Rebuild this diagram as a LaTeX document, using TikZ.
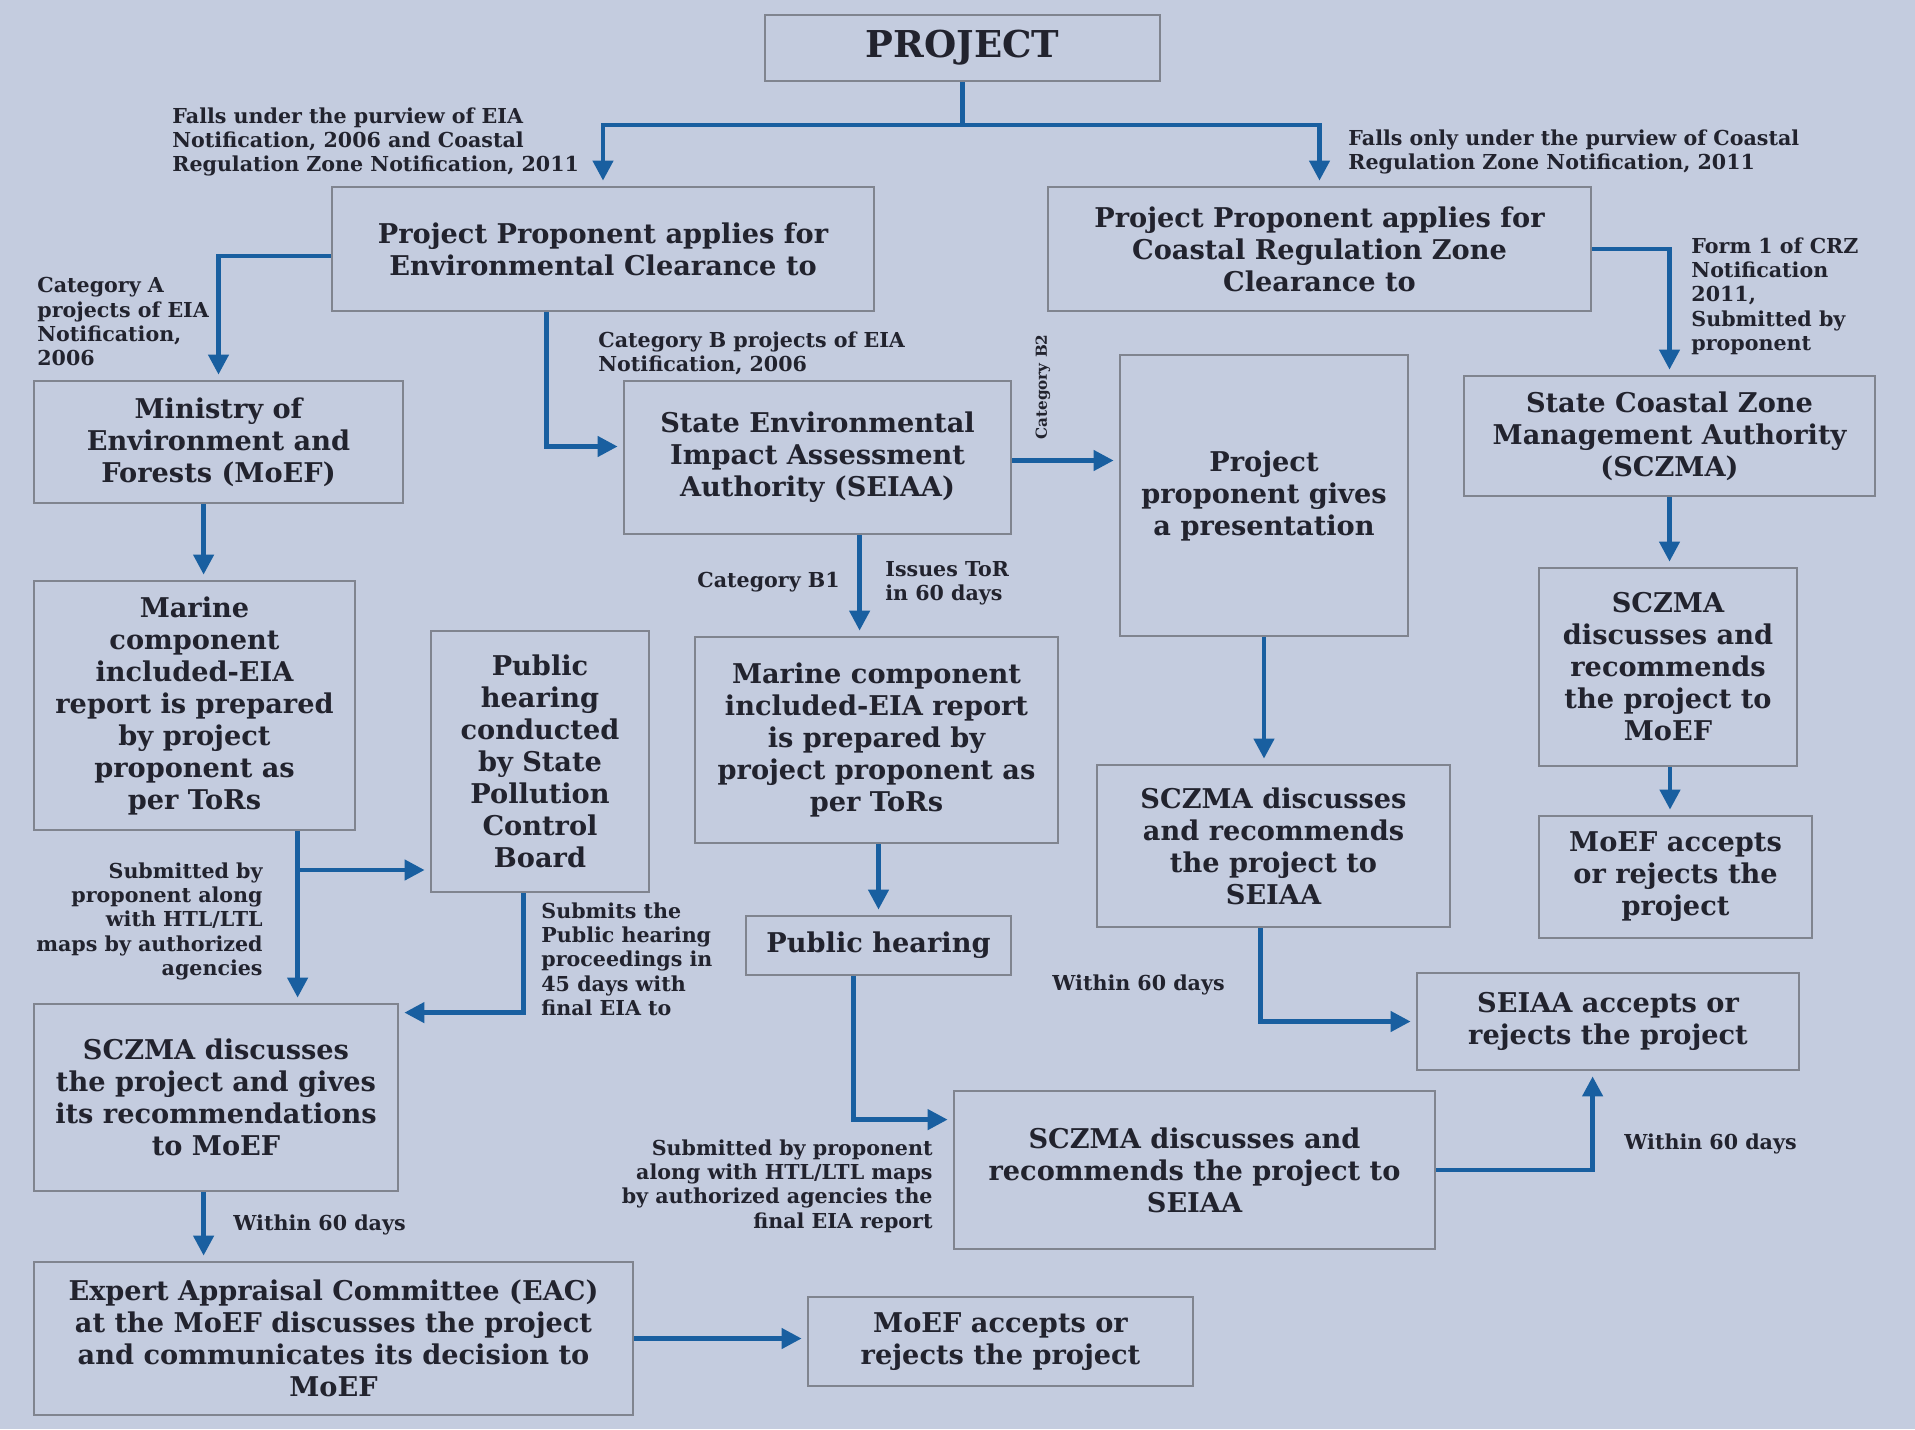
\documentclass[tikz,border=0pt]{standalone}
\usepackage{fontspec}
\setmainfont{DejaVu Serif}
\usetikzlibrary{arrows.meta,calc}
\definecolor{bg}{HTML}{C4CCDF}
\definecolor{bordc}{HTML}{80848F}
\definecolor{arrc}{RGB}{25,95,160}
\definecolor{txt}{HTML}{22232E}
\newcommand\bx[6]{\node[box, minimum width={(#4-#2)*0.5pt}, minimum height={(#5-#3)*0.5pt}] (#1) at ({(#2+#4)/2},{(#3+#5)/2}) {#6};}
\begin{document}
\begin{tikzpicture}[x=0.5pt,y=-0.5pt,
 box/.style={draw=bordc, line width=1.4pt, align=center, text=txt, font=\bfseries\fontsize{13.6}{16}\selectfont, inner sep=0pt},
 lbl/.style={text=txt, font=\bfseries\fontsize{10.3}{12.2}\selectfont, inner sep=0pt},
 arr/.style={draw=arrc, line width=2.2pt, -{Triangle[length=10pt,width=10pt]}, shorten >=2.5pt},
 ln/.style={draw=arrc, line width=2.2pt}]
\fill[bg] (0,0) rectangle (1915,1429);
\useasboundingbox (0,0) rectangle (1915,1429);

\node[box, font=\bfseries\fontsize{18.5}{20}\selectfont, minimum width={(1160-765)*0.5pt}, minimum height={(81-15)*0.5pt}] (proj) at ({(765+1160)/2},{(15+81)/2}) {PROJECT};
\bx{ec}{332}{187}{874}{311}{Project Proponent applies for\\Environmental Clearance to}
\bx{crz}{1048}{187}{1591}{311}{Project Proponent applies for\\Coastal Regulation Zone\\Clearance to}
\bx{moef}{34}{381}{403}{503}{Ministry of\\Environment and\\Forests (MoEF)}
\bx{seiaa}{624}{381}{1011}{534}{State Environmental\\Impact Assessment\\Authority (SEIAA)}
\bx{pres}{1120}{355}{1408}{636}{Project\\proponent gives\\a presentation}
\bx{scz}{1464}{376}{1875}{496}{State Coastal Zone\\Management Authority\\(SCZMA)}
\bx{mar1}{34}{581}{355}{830}{Marine\\component\\included-EIA\\report is prepared\\by project\\proponent as\\per ToRs}
\bx{ph1}{431}{631}{649}{892}{Public\\hearing\\conducted\\by State\\Pollution\\Control\\Board}
\bx{mar2}{695}{637}{1058}{843}{Marine component\\included-EIA report\\is prepared by\\project proponent as\\per ToRs}
\bx{sc2}{1539}{568}{1797}{766}{SCZMA\\discusses and\\recommends\\the project to\\MoEF}
\bx{scm}{1097}{765}{1450}{927}{SCZMA discusses\\and recommends\\the project to\\SEIAA}
\bx{macc}{1539}{816}{1812}{938}{MoEF accepts\\or rejects the\\project}
\bx{ph2}{746}{916}{1011}{975}{Public hearing}
\bx{sacc}{1417}{973}{1799}{1070}{SEIAA accepts or\\rejects the project}
\bx{scl}{34}{1004}{398}{1191}{SCZMA discusses\\the project and gives\\its recommendations\\to MoEF}
\bx{scb}{954}{1091}{1435}{1249}{SCZMA discusses and\\recommends the project to\\SEIAA}
\bx{eac}{34}{1262}{633}{1415}{Expert Appraisal Committee (EAC)\\at the MoEF discusses the project\\and communicates its decision to\\MoEF}
\bx{macc2}{808}{1297}{1193}{1386}{MoEF accepts or\\rejects the project}

% labels
\node[lbl, align=left, anchor=north west] (l1) at (172,107) {Falls under the purview of EIA\\Notification, 2006 and Coastal\\Regulation Zone Notification, 2011};
\node[lbl, align=left, anchor=north west] (l2) at (1348,129) {Falls only under the purview of Coastal\\Regulation Zone Notification, 2011};
\node[lbl, align=left, anchor=north west] (l3) at (37,277) {Category A\\projects of EIA\\Notification,\\2006};
\node[lbl, align=left, anchor=north west] (l4) at (598,331) {Category B projects of EIA\\Notification, 2006};
\node[lbl, align=left, anchor=north west] (l5) at (1691,237) {Form 1 of CRZ\\Notification\\2011,\\Submitted by\\proponent};
\node[lbl, align=right, anchor=north east] (l6) at (263,862) {Submitted by\\proponent along\\with HTL/LTL\\maps by authorized\\agencies};
\node[lbl, align=left, anchor=north west] (l7) at (541,902) {Submits the\\Public hearing\\proceedings in\\45 days with\\final EIA to};
\node[lbl, align=right, anchor=north east] (l8) at (933,1139) {Submitted by proponent\\along with HTL/LTL maps\\by authorized agencies the\\final EIA report};
\node[lbl, anchor=west] (w1) at (233,1225) {Within 60 days};
\node[lbl, anchor=west] (w2) at (1052,985) {Within 60 days};
\node[lbl, anchor=west] (w3) at (1624,1144) {Within 60 days};
\node[lbl, anchor=west] (b1) at (697,582) {Category B1};
\node[lbl, align=left, anchor=north west] (tor) at (885,561) {Issues ToR\\in 60 days};
\node[lbl, rotate=90, font=\bfseries\fontsize{7.6}{9}\selectfont] (b2) at (1043,387) {Category B2};

% connectors
\coordinate (split) at (962.5,125);
\draw[ln] (proj.south) -- (split);
\draw[arr] (split) -| (ec.north);
\draw[arr] (split) -| (crz.north);
\draw[arr] ($(ec.west)+(0,7)$) -| (moef.north);
\draw[arr] ($(ec.south west)+(216,0)$) |- ($(seiaa.west)+(0,-11)$);
\draw[arr] (crz.east) -| (scz.north);
\draw[arr] ($(moef.south west)+(171,0)$) -- ($(mar1.north west)+(171,0)$);
\draw[arr] ($(seiaa.east)+(0,3)$) -- ($(seiaa.east -| pres.west)+(0,3)$);
\draw[arr] ($(seiaa.south west)+(237,0)$) -- ($(mar2.north west)+(166,0)$);
\draw[arr] (pres.south) -- (pres.south |- scm.north);
\draw[arr] (scz.south) -- (scz.south |- sc2.north);
\draw[arr] ($(sc2.south)+(2,0)$) -- ($(sc2.south |- macc.north)+(2,0)$);
\coordinate (br) at (299,870);
\draw[arr] ($(mar1.south west)+(265,0)$) -- ($(scl.north west)+(265,0)$);
\draw[arr] (br) -- (br -| ph1.west);
\draw[arr] ($(ph1.south west)+(94,0)$) |- ($(scl.north east)+(0,10)$);
\draw[arr] (ph2.north |- mar2.south) -- (ph2.north);
\draw[arr] ($(ph2.south west)+(109,0)$) |- ($(scb.north west)+(0,30)$);
\draw[arr] ($(scm.south west)+(165,0)$) |- (sacc.west);
\draw[arr] (scb.east) -| ($(sacc.south west)+(177,0)$);
\draw[arr] ($(scl.south west)+(171,0)$) -- ($(eac.north west)+(171,0)$);
\draw[arr] (eac.east) -- (eac.east -| macc2.west);
\end{tikzpicture}
\end{document}
